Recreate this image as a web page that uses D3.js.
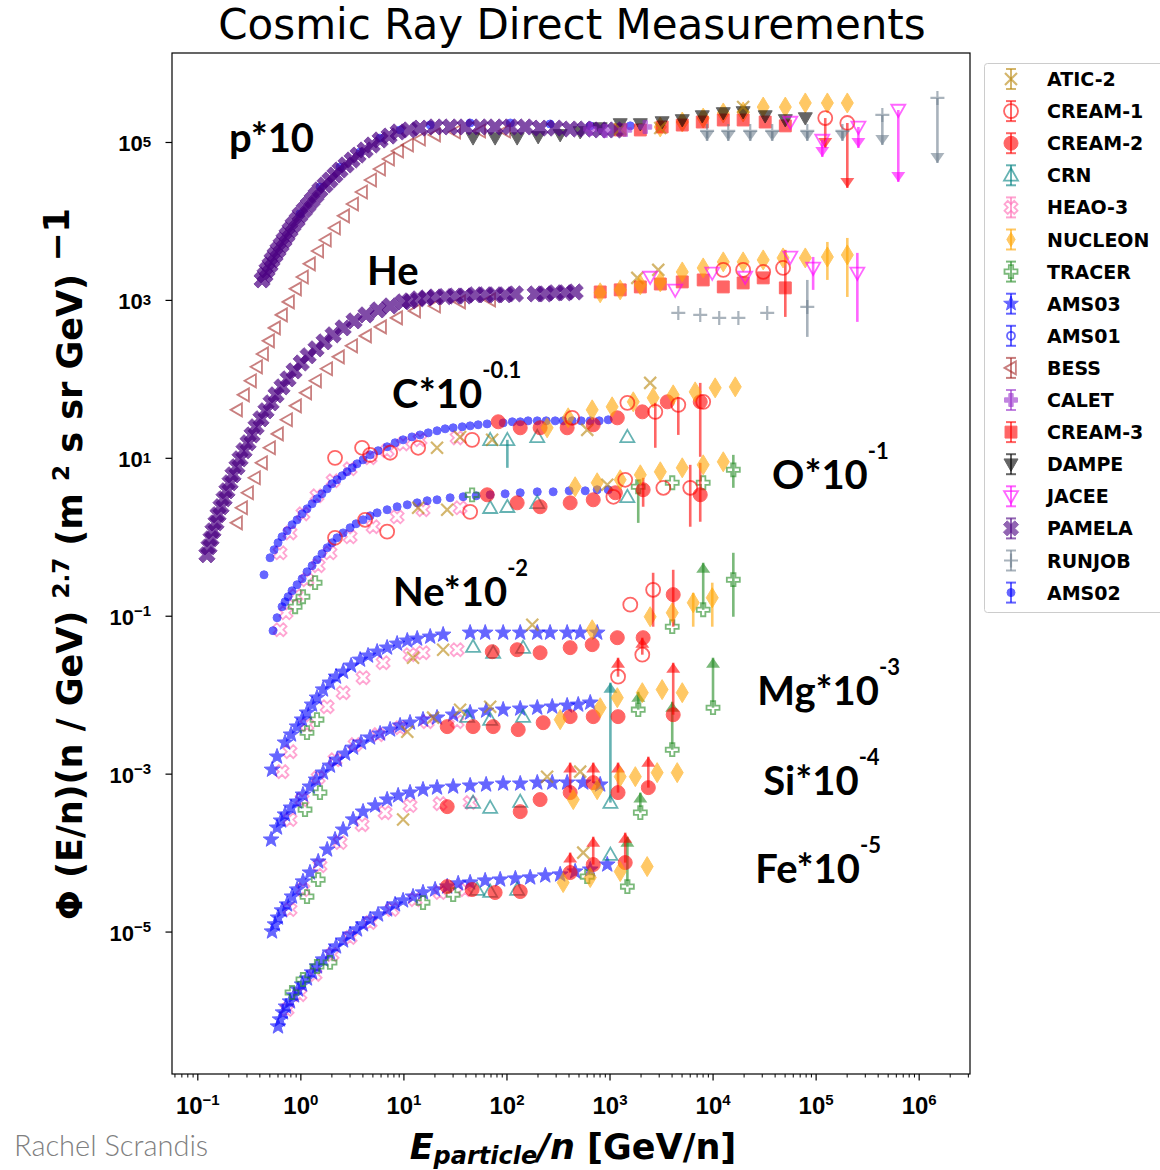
<!DOCTYPE html>
<html>
<head>
<meta charset="utf-8">
<script src="https://cdn.jsdelivr.net/npm/d3@7"></script>
<style>
  body { margin: 0; background: #fff; }
</style>
</head>
<body>
<div id="chart"></div>
<script>
// ---- data (already scaled as plotted: p*10, C*10^-0.1, ...) ----
// point: [E/n, flux]  |  [E/n, flux, barLow, barHigh]  |  [E/n, flux, limitWithArrow]

const experiments = ["ATIC-2", "CREAM-1", "CREAM-2", "CRN", "HEAO-3", "NUCLEON", "TRACER", "AMS03",
  "AMS01", "BESS", "CALET", "CREAM-3", "DAMPE", "JACEE", "PAMELA", "RUNJOB", "AMS02"];

const yTicks = [1e5, 1e3, 1e1, 1e-1, 1e-3, 1e-5];
const xTicks = [1e-1, 1e0, 1e1, 1e2, 1e3, 1e4, 1e5, 1e6];

// protons (*10)
const pPAMELA = [[0.425,1.79e3],[0.454,2.07e3],[0.475,2.40e3],[0.508,2.77e3],[0.531,3.21e3],[0.568,3.71e3],
  [0.607,4.30e3],[0.650,4.97e3],[0.694,5.75e3],[0.743,6.65e3],[0.794,7.69e3],[0.850,8.90e3],[0.929,1.03e4],
  [0.993,1.19e4],[1.09,1.38e4],[1.19,1.59e4],[1.30,1.84e4],[1.42,2.13e4],[1.55,2.47e4],[1.74,2.86e4],
  [1.94,3.30e4],[2.17,3.82e4],[2.43,4.42e4],[2.78,5.12e4],[3.18,5.92e4],[3.63,6.84e4],[4.25,7.92e4],
  [4.97,9.16e4],[5.94,1.06e5],[7.26,1.19e5],[8.89,1.34e5],[11.4,1.42e5],[14.5,1.50e5],[20.3,1.55e5],
  [28.4,1.55e5],[39.7,1.55e5],[55.6,1.55e5],[77.6,1.55e5],[109,1.55e5],[152,1.55e5],[212,1.50e5],
  [297,1.50e5],[415,1.46e5],[581,1.46e5],[812,1.42e5],[1140,1.42e5]];
const pAMS02 = [[0.99,1.23e4],[1.55,2.69e4],[2.43,4.83e4],[3.80,7.47e4],[5.94,1.12e5],[9.29,1.42e5],
  [18.2,1.64e5],[44.4,1.74e5],[109,1.74e5],[265,1.69e5],[650,1.60e5],[1590,1.60e5]];
const pBESS = [[0.243,40.5],[0.284,62.7],[0.332,94.4],[0.380,142],[0.435,207],[0.497,303],[0.568,442],
  [0.664,646],[0.776,944],[0.908,1.38e3],[1.06,1.95e3],[1.24,2.86e3],[1.49,4.17e3],[1.77,5.75e3],
  [2.17,8.15e3],[2.66,1.16e4],[3.25,1.64e4],[3.97,2.33e4],[4.86,3.30e4],[5.94,4.55e4],[7.26,6.09e4],
  [8.89,7.69e4],[11.1,9.16e4],[14.5,1.09e5],[20.3,1.23e5],[31.8,1.34e5],[55.6,1.38e5],[97.1,1.38e5]];
const pDAMPE = [[47.4,1.12e5],[77.6,1.12e5],[127,1.12e5],[203,1.16e5],[332,1.23e5],[519,1.34e5],[812,1.50e5],
  [1270,1.69e5],[1990,1.69e5],[3240,1.79e5],[5080,1.90e5],[7940,2.13e5],[1.27e4,2.33e5],[1.98e4,2.40e5],
  [3.24e4,2.13e5],[5.08e4,1.90e5],[7.94e4,2.01e5]];
const pCREAM3 = [[1270,1.42e5],[1990,1.42e5],[3240,1.55e5],[5080,1.64e5],[7940,1.79e5],[1.27e4,1.90e5],
  [1.98e4,1.90e5],[3.24e4,1.79e5],[5.08e4,1.60e5]];
const pNUCLEON = [[3105,1.55e5],[5080,1.79e5],[8110,2.01e5],[1.27e4,2.33e5],[1.98e4,2.40e5],[3.10e4,2.77e5],
  [5.08e4,2.77e5],[7.94e4,3.12e5],[1.30e5,3.12e5],[2.03e5,3.12e5]];
const pRUNJOB = [[8850,1.38e5,1.03e5],[1.42e4,1.38e5,1.03e5],[2.32e4,1.38e5,1.03e5],[3.79e4,1.38e5,1.03e5],
  [8.30e4,1.38e5,1.03e5],[1.82e5,1.38e5,1.03e5],[4.44e5,2.20e5,9.16e4],[1.52e6,3.61e5,5.42e4]];
const pJACEE = [[5.68e4,1.79e5],[1.16e5,1.06e5,6.46e4],[2.60e5,1.55e5,8.40e4],[6.34e5,2.54e5,3.12e4]];
const pCREAM1 = [[1.24e5,2.01e5,8.40e4],[2.03e5,1.74e5,2.62e4]];
const pATIC2 = [[1270,1.46e5],[3105,1.50e5],[1.98e4,2.77e5]];
const pCALET = [[650,1.46e5],[906,1.38e5],[1420,1.42e5],[2220,1.55e5]];

// helium
const hePAMELA = [[0.124,0.592],[0.130,0.747],[0.136,0.943],[0.142,1.19],[0.152,1.50],[0.159,1.90],
  [0.170,2.40],[0.182,3.03],[0.194,3.82],[0.208,4.83],[0.222,6.09],[0.243,7.69],[0.260,9.71],[0.284,12.3],
  [0.311,15.5],[0.340,19.5],[0.372,24.7],[0.415,31.2],[0.464,39.4],[0.520,49.7],[0.581,62.7],[0.664,79.2],
  [0.760,100],[0.869,126],[1.02,159],[1.19,196],[1.42,240],[1.70,294],[2.08,361],[2.60,442],[3.32,542],
  [4.34,646],[5.68,747],[7.43,839],[9.93,944],[11.6,971],[13.9,1030],[16.6,1060],[20.3,1090],[25.4,1100],
  [31.8,1120],[39.7,1120],[49.7,1160],[62.1,1160],[77.6,1160],[97.1,1160],[122,1190],[190,1190],[238,1190],
  [297,1230],[372,1230],[464,1260]];
const heBESS = [[0.243,1.50],[0.272,2.33],[0.311,3.61],[0.363,5.58],[0.425,8.64],[0.508,13.4],[0.607,20.1],
  [0.743,30.3],[0.908,45.5],[1.14,66.5],[1.42,94.4],[1.82,134],[2.37,190],[3.18,262],[4.34,350],[6.07,455],
  [8.69,592],[13.0,726],[20.3,839],[35.5,944],[69.5,1000]];
const heCREAM3 = [[812,1260],[1270,1340],[1990,1460],[3110,1590],[5080,1690],[8110,1790],[1.27e4,1460],
  [1.98e4,1640],[3.10e4,1900],[5.08e4,1420,609,4300]];
const heNUCLEON = [[812,1230],[1270,1340],[1990,1550],[3110,1690],[5080,2260],[8110,2540],[1.27e4,3030],
  [1.98e4,3030],[3.10e4,3210],[4.83e4,3400],[7.94e4,3400],[1.30e5,3500,1790,5420],[2.03e5,3710,1090,6090]];
const heCREAM1 = [[1.27e4,2400],[1.98e4,2400],[3.10e4,2260],[4.83e4,2540]];
const heJACEE = [[2480,1950],[4340,1340],[9930,2200],[2.07e4,1950],[5.68e4,3500],[9.46e4,2540,1340,3500],
  [2.54e5,2200,527,3940]];
const heRUNJOB = [[4650,684],[7590,646],[1.16e4,592],[1.78e4,592],[3.39e4,684],[8.30e4,815,340,1790]];
const heATIC2 = [[1860,1900],[2970,2400]];

// carbon (*10^-0.1)
const cAMS02 = [[0.444,0.330],[0.508,0.542],[0.556,0.684],[0.607,0.840],[0.664,1.00],[0.743,1.19],[0.830,1.42],
  [0.929,1.64],[1.04,1.95],[1.16,2.26],[1.30,2.62],[1.45,3.03],[1.62,3.50],[1.82,4.05],[2.03,4.69],[2.27,5.27],
  [2.54,5.92],[2.84,6.65],[3.18,7.47],[3.55,8.40],[4.06,9.43],[4.75,10.9],[5.68,12.3],[6.95,13.8],[8.30,15.5],
  [9.93,16.9],[12.1,18.4],[14.5,19.5],[17.4,20.7],[21.2,22.0],[25.4,23.3],[30.4,24.0],[37.2,24.7],[44.4,25.4],
  [53.1,26.2],[64.9,26.9],[92.9,27.7],[114,28.6],[136,28.6],[162,29.4],[199,29.4],[243,29.4],[297,29.4],
  [355,29.4],[434,29.4],[531,29.4],[650,29.4],[794,29.4],[971,30.3]];
const cHEAO3 = [[0.635,0.627],[0.794,1.12],[1.06,1.95],[1.45,3.30],[2.08,5.11],[3.04,7.26],[4.75,10.0],
  [6.95,12.3],[9.93,15.0],[14.5,16.9],[33.2,17.9]];
const cCREAM1 = [[2.17,10.0],[3.97,13.4],[4.75,10.9],[7.43,11.6],[13.9,13.4],[46.4,16.9],[434,32.1],
  [1490,49.7],[2780,38.2,13.4,49.7],[4650,46.9,19.5,59.2],[8110,51.2]];
const cATIC2 = [[21.2,13.4],[35.5,18.4],[72.6,16.9],[608,22.6],[2480,88.9]];
const cCRN = [[69.5,16.9],[102,16.9,7.47,16.9],[199,18.4],[1490,18.4]];
const cCREAM2 = [[83.2,28.6],[136,24.0],[212,24.0],[388,24.0],[695,26.2],[1190,32.1],[2080,38.2],[3640,51.2],
  [7590,51.2,10.3,88.9]];
const cNUCLEON = [[248,24.0],[397,32.1],[679,40.5],[1060,44.2],[1700,51.2],[2650,57.5],[4150,62.7],[6780,68.4],
  [1.06e4,76.9],[1.66e4,79.2]];

// oxygen (*10^-1)
const oAMS02 = [[0.543,0.0646],[0.594,0.0944],[0.664,0.130],[0.710,0.150],[0.760,0.174],[0.830,0.207],
  [0.929,0.247],[1.04,0.294],[1.16,0.360],[1.30,0.430],[1.45,0.512],[1.62,0.609],[1.82,0.726],[2.03,0.840],
  [2.27,0.971],[2.60,1.12],[3.04,1.30],[3.47,1.46],[4.06,1.64],[4.75,1.84],[5.56,2.01],[6.95,2.20],[8.69,2.40],
  [10.9,2.54],[13.6,2.69],[17.0,2.86],[21.2,2.94],[28.4,3.12],[38.0,3.21],[50.8,3.30],[69.5,3.40],[97.1,3.50],
  [136,3.61],[199,3.71],[284,3.71],[406,3.82],[581,3.82],[759,3.94],[971,3.94]];
const oHEAO3 = [[0.635,0.0665],[0.726,0.109],[0.908,0.179],[1.16,0.286],[1.49,0.430],[1.94,0.627],[3.04,1.00],
  [5.08,1.34],[8.69,1.79],[15.5,2.20],[35.5,2.33]];
const oTRACER = [[0.889,0.130],[1.06,0.174],[1.39,0.262],[46.4,3.40],[1900,4.30,1.50,5.27],[4060,4.83],
  [8110,4.83],[1.59e4,7.05,4.17,10.9]];
const oCREAM1 = [[2.17,0.971],[4.25,1.64],[6.95,1.16],[44.4,2.07],[1090,3.21],[1420,5.27],[3330,4.17],
  [6070,4.17,1.34,8.15]];
const oCREAM2 = [[65.0,3.40],[127,2.69],[212,2.40],[415,2.69],[695,2.94],[1140,3.61],[2120,3.94,2.40,5.58],
  [7590,3.40,1.55,8.64]];
const oCRN = [[69.5,2.33],[102,2.40],[199,2.69],[1490,3.21]];
const oATIC2 = [[13.9,2.33],[26.6,2.20],[951,4.55]];
const oNUCLEON = [[464,4.30],[759,4.83],[1270,5.27],[1990,6.09],[3110,6.65],[5080,7.47],[8110,8.15],[1.27e4,8.90]];

// neon (*10^-2)
const neAMS03 = [[0.531,1.12e-3],[0.594,1.64e-3],[0.710,2.47e-3],[0.812,3.12e-3],[0.929,3.94e-3],[1.04,4.83e-3],
  [1.16,5.92e-3],[1.30,7.47e-3],[1.45,9.16e-3],[1.66,0.0116],[1.94,0.0142],[2.22,0.0169],[2.60,0.0195],
  [3.11,0.0233],[3.80,0.0277],[4.54,0.0312],[5.56,0.0350],[6.95,0.0394],[8.69,0.0442],[10.9,0.0483],
  [13.6,0.0512],[18.2,0.0542],[24.3,0.0575],[44.4,0.0609],[62.2,0.0609],[92.9,0.0609],[136,0.0609],
  [199,0.0609],[265,0.0609],[388,0.0609],[519,0.0609],[760,0.0609]];
const neHEAO3 = [[0.664,1.06e-3],[0.794,1.90e-3],[1.16,4.17e-3],[1.82,7.05e-3],[2.60,0.0106],[4.06,0.0164],
  [6.35,0.0254],[11.6,0.0321],[15.5,0.0340],[33.2,0.0371]];
const neTRACER = [[1.16,3.30e-3],[1.45,4.83e-3],[4060,0.0726],[8110,0.119,0.469],[1.59e4,0.286,0.0971,0.627]];
const neATIC2 = [[12.4,0.0294],[24.3,0.0371],[178,0.0769]];
const neCRN = [[47.4,0.0405],[74.3,0.0340],[145,0.0394]];
const neCREAM2 = [[72.8,0.0350],[127,0.0371],[212,0.0340],[415,0.0394],[679,0.0430],[1190,0.0527],[2120,0.0527],
  [4150,0.185,0.0726,0.382]];
const neCREAM1 = [[1590,0.138],[2650,0.213,0.0726,0.350],[1210,0.0169,0.0294],[2080,0.0321,0.0527]];
const neNUCLEON = [[679,0.0665],[2480,0.0971],[4060,0.109],[6490,0.146,0.0726,0.195],[9930,0.169,0.0726,0.262]];

// magnesium (*10^-3)
const mgAMS03 = [[0.520,1.46e-4],[0.594,2.07e-4],[0.650,2.54e-4],[0.710,3.03e-4],[0.812,3.71e-4],[0.929,4.42e-4],
  [1.06,5.42e-4],[1.24,6.84e-4],[1.42,8.39e-4],[1.66,1.03e-3],[1.94,1.26e-3],[2.27,1.50e-3],[2.72,1.79e-3],
  [3.25,2.13e-3],[3.88,2.47e-3],[4.75,2.86e-3],[5.94,3.21e-3],[7.43,3.61e-3],[9.29,4.06e-3],[11.6,4.42e-3],
  [15.5,4.83e-3],[21.2,5.12e-3],[30.4,5.58e-3],[44.4,5.92e-3],[63.5,6.27e-3],[92.9,6.46e-3],[136,6.65e-3],
  [199,6.84e-3],[278,7.05e-3],[388,7.26e-3],[497,7.47e-3],[650,7.92e-3]];
const mgHEAO3 = [[0.794,2.62e-4],[1.04,4.69e-4],[1.49,8.89e-4],[2.17,1.50e-3],[3.40,2.33e-3],[5.68,3.12e-3],
  [9.29,3.82e-3],[17.0,4.55e-3],[33.2,4.55e-3]];
const mgTRACER = [[1.11,3.50e-4],[1.55,5.75e-4],[1900,6.46e-3,0.0109],[4060,2.01e-3,8.15e-3],[1.01e4,6.84e-3,0.0294]];
const mgATIC2 = [[10.9,3.40e-3],[19.4,5.12e-3],[35.5,6.46e-3],[69.5,7.05e-3]];
const mgCREAM2 = [[26.6,3.94e-3],[47.4,3.94e-3],[74.3,3.94e-3],[130,3.61e-3],[227,4.42e-3],[415,5.27e-3],
  [695,5.27e-3],[1210,5.27e-3],[4150,5.58e-3,0.0254]];
const mgCRN = [[41.5,5.27e-3],[69.5,4.83e-3],[145,5.27e-3]];
const mgNUCLEON = [[332,4.83e-3],[812,6.84e-3],[1190,9.16e-3],[2080,0.0106],[3240,0.0116],[5080,0.0106]];

// silicon (*10^-4)
const siAMS03 = [[0.531,1.00e-5],[0.568,1.23e-5],[0.607,1.50e-5],[0.664,1.85e-5],[0.743,2.20e-5],[0.830,2.77e-5],
  [0.929,3.40e-5],[1.06,4.30e-5],[1.24,5.58e-5],[1.49,7.69e-5],[1.82,1.09e-4],[2.17,1.46e-4],[2.60,1.95e-4],
  [3.25,2.62e-4],[4.06,3.30e-4],[5.31,3.94e-4],[6.95,4.69e-4],[8.89,5.27e-4],[11.6,5.75e-4],[15.5,6.27e-4],
  [21.2,6.65e-4],[30.4,6.84e-4],[44.4,7.05e-4],[63.5,7.26e-4],[92.9,7.47e-4],[136,7.47e-4],[199,7.69e-4],
  [278,7.69e-4],[388,7.69e-4],[556,7.69e-4],[812,7.26e-4]];
const siHEAO3 = [[0.794,1.90e-5],[1.06,3.40e-5],[1.55,6.84e-5],[2.43,1.34e-4],[3.97,2.26e-4],[6.64,3.21e-4],
  [11.6,3.94e-4],[22.7,4.17e-4],[44.4,4.30e-4]];
const siTRACER = [[1.16,2.77e-5],[1.49,4.55e-5],[1990,3.21e-4,5.75e-4]];
const siATIC2 = [[9.93,2.62e-4],[248,9.16e-4],[519,1.06e-3]];
const siCREAM2 = [[26.6,3.82e-4],[136,3.30e-4],[212,4.69e-4],[415,5.75e-4,1.38e-3],[695,7.69e-4,1.38e-3],
  [1210,5.75e-4,1.38e-3],[2380,6.65e-4,1.64e-3]];
const siCRN = [[47.4,4.30e-4],[69.5,3.71e-4],[136,4.42e-4],[1020,4.30e-4,0.0142]];
const siNUCLEON = [[445,4.69e-4],[759,6.27e-4],[1270,9.16e-4],[1780,9.16e-4],[2900,1.03e-3],[4540,1.03e-3]];

// iron (*10^-5)
const feAMS03 = [[0.607,6.27e-7],[0.635,7.69e-7],[0.679,9.44e-7],[0.726,1.12e-6],[0.794,1.30e-6],[0.869,1.55e-6],
  [0.950,1.84e-6],[1.04,2.13e-6],[1.16,2.54e-6],[1.30,3.03e-6],[1.45,3.61e-6],[1.66,4.42e-6],[1.94,5.42e-6],
  [2.22,6.46e-6],[2.60,7.69e-6],[3.04,9.16e-6],[3.55,1.06e-5],[4.06,1.23e-5],[4.75,1.42e-5],[5.68,1.64e-5],
  [6.95,1.90e-5],[8.30,2.20e-5],[9.93,2.47e-5],[12.4,2.77e-5],[15.5,3.12e-5],[20.3,3.40e-5],[26.6,3.71e-5],
  [34.0,4.06e-5],[44.4,4.17e-5],[62.1,4.42e-5],[86.9,4.55e-5],[122,4.69e-5],[170,4.83e-5],[238,5.12e-5],
  [332,5.27e-5],[464,5.75e-5],[650,6.09e-5],[951,7.05e-5]];
const feHEAO3 = [[0.743,1.03e-6],[0.99,1.59e-6],[1.39,2.86e-6],[2.03,5.12e-6],[3.04,8.39e-6],[4.75,1.30e-5],
  [7.77,1.90e-5],[13.0,2.54e-5],[22.7,3.12e-5],[39.7,3.40e-5]];
const feTRACER = [[0.830,1.69e-6],[1.06,2.47e-6],[1.45,3.61e-6],[1.94,4.06e-6],[15.5,2.33e-5],[30.4,2.94e-5],
  [608,4.97e-5],[1490,3.71e-5,1.59e-4]];
const feCRN = [[51.9,3.40e-5],[69.5,3.21e-5],[127,3.40e-5],[1020,9.44e-5]];
const feCREAM2 = [[26.6,3.71e-5],[46.4,3.40e-5],[77.6,3.12e-5],[136,3.21e-5],[415,5.58e-5,1.0e-4],
  [695,7.05e-5,1.59e-4],[1420,7.47e-5,1.79e-4]];
const feNUCLEON = [[355,4.17e-5],[650,4.83e-5],[1270,5.75e-5],[2320,6.65e-5]];
const feATIC2 = [[556,1.0e-4]];

// species labels: [text, exponent, E/n at left edge, flux at baseline]
const speciesLabels = [["p*10", "", 0.203, 7.5e4], ["He", "", 4.43, 1.55e3], ["C*10", "-0.1", 7.77, 42.9],
  ["O*10", "-1", 3.78e4, 4.05], ["Ne*10", "-2", 7.94, 0.134], ["Mg*10", "-3", 2.72e4, 7.47e-3],
  ["Si*10", "-4", 3.10e4, 5.42e-4], ["Fe*10", "-5", 2.60e4, 4.17e-5]];

// ---- drawing order ----
const series = [
  ["HEAO-3", cHEAO3], ["HEAO-3", oHEAO3], ["HEAO-3", neHEAO3], ["HEAO-3", mgHEAO3], ["HEAO-3", siHEAO3], ["HEAO-3", feHEAO3],
  ["AMS02", pAMS02], ["AMS02", cAMS02], ["AMS02", oAMS02],
  ["AMS03", neAMS03], ["AMS03", mgAMS03], ["AMS03", siAMS03], ["AMS03", feAMS03],
  ["BESS", pBESS], ["BESS", heBESS],
  ["NUCLEON", pNUCLEON], ["CREAM-3", pCREAM3], ["DAMPE", pDAMPE],
  ["PAMELA", pPAMELA], ["PAMELA", hePAMELA],
  ["TRACER", oTRACER], ["TRACER", neTRACER], ["TRACER", mgTRACER], ["TRACER", siTRACER], ["TRACER", feTRACER],
  ["CRN", cCRN], ["CRN", oCRN], ["CRN", neCRN], ["CRN", mgCRN], ["CRN", siCRN], ["CRN", feCRN],
  ["ATIC-2", pATIC2], ["ATIC-2", heATIC2], ["ATIC-2", cATIC2], ["ATIC-2", oATIC2], ["ATIC-2", neATIC2],
  ["ATIC-2", mgATIC2], ["ATIC-2", siATIC2], ["ATIC-2", feATIC2],
  ["CALET", pCALET],
  ["CREAM-3", heCREAM3],
  ["CREAM-2", cCREAM2], ["CREAM-2", oCREAM2], ["CREAM-2", neCREAM2], ["CREAM-2", mgCREAM2], ["CREAM-2", siCREAM2], ["CREAM-2", feCREAM2],
  ["NUCLEON", heNUCLEON], ["NUCLEON", cNUCLEON], ["NUCLEON", oNUCLEON], ["NUCLEON", neNUCLEON],
  ["NUCLEON", mgNUCLEON], ["NUCLEON", siNUCLEON], ["NUCLEON", feNUCLEON],
  ["CREAM-1", pCREAM1], ["CREAM-1", heCREAM1], ["CREAM-1", cCREAM1], ["CREAM-1", oCREAM1], ["CREAM-1", neCREAM1],
  ["JACEE", pJACEE], ["JACEE", heJACEE],
  ["RUNJOB", pRUNJOB], ["RUNJOB", heRUNJOB]
];

// marker look for each experiment
const styles = {
  "ATIC-2":  { color: "#b8860b", shape: "x", fill: false, size: 12 },
  "CREAM-1": { color: "red", shape: "circle", fill: false, size: 14 },
  "CREAM-2": { color: "red", shape: "circle", fill: true, size: 14 },
  "CRN":     { color: "teal", shape: "triUp", fill: false, size: 14 },
  "HEAO-3":  { color: "hotpink", shape: "xfat", fill: false, size: 12 },
  "NUCLEON": { color: "orange", shape: "thinDiamond", fill: true, size: 20 },
  "TRACER":  { color: "#228b22", shape: "plusFat", fill: false, size: 13 },
  "AMS03":   { color: "blue", shape: "star", fill: true, size: 15 },
  "AMS01":   { color: "blue", shape: "circle", fill: false, size: 8 },
  "BESS":    { color: "brown", shape: "triLeft", fill: false, size: 13 },
  "CALET":   { color: "darkorchid", shape: "plusFat", fill: true, size: 13 },
  "CREAM-3": { color: "red", shape: "square", fill: true, size: 14 },
  "DAMPE":   { color: "black", shape: "triDown", fill: true, size: 14 },
  "JACEE":   { color: "magenta", shape: "triDown", fill: false, size: 14 },
  "PAMELA":  { color: "indigo", shape: "xfat", fill: true, size: 15, alpha: 0.7 },
  "RUNJOB":  { color: "slategray", shape: "plus", fill: false, size: 14 },
  "AMS02":   { color: "blue", shape: "circle", fill: true, size: 8 }
};

const W = 1160, H = 1170;
const plotL = 172, plotR = 970, plotT = 53, plotB = 1074;

const svg = d3.select("#chart").append("svg")
  .attr("width", W).attr("height", H)
  .style("font-family", "DejaVu Sans, sans-serif");

const x = d3.scaleLog().domain([Math.pow(10, -1.2456), Math.pow(10, 6.498)]).range([plotL, plotR]);
const y = d3.scaleLog().domain([Math.pow(10, -6.804), Math.pow(10, 6.127)]).range([plotB, plotT]);

function rotatePts(pts, deg) {
  const a = deg * Math.PI / 180, c = Math.cos(a), s = Math.sin(a);
  return pts.map(p => [p[0] * c - p[1] * s, p[0] * s + p[1] * c]);
}
function poly(pts) { return "M" + pts.map(p => p[0].toFixed(2) + "," + p[1].toFixed(2)).join("L") + "Z"; }

function shapePath(shape, s) {
  const r = s / 2;
  const t = r / 3;
  const plusPts = [[-t,-r],[t,-r],[t,-t],[r,-t],[r,t],[t,t],[t,r],[-t,r],[-t,t],[-r,t],[-r,-t],[-t,-t]];
  switch (shape) {
    case "circle": return `M${r},0A${r},${r} 0 1,1 ${-r},0A${r},${r} 0 1,1 ${r},0Z`;
    case "square": return poly([[-r*0.85,-r*0.85],[r*0.85,-r*0.85],[r*0.85,r*0.85],[-r*0.85,r*0.85]]);
    case "triUp": return poly([[0,-r],[r,r*0.75],[-r,r*0.75]]);
    case "triDown": return poly([[0,r],[r,-r*0.75],[-r,-r*0.75]]);
    case "triLeft": return poly([[-r,0],[r*0.75,-r],[r*0.75,r]]);
    case "thinDiamond": return poly([[0,-r],[r*0.6,0],[0,r],[-r*0.6,0]]);
    case "x": return `M${-r},${-r}L${r},${r}M${-r},${r}L${r},${-r}`;
    case "plus": return `M${-r},0L${r},0M0,${-r}L0,${r}`;
    case "plusFat": return poly(plusPts);
    case "xfat": return poly(rotatePts(plusPts.map(p => [p[0]*1.15, p[1]*1.15]), 45));
    case "star": {
      const pts = [];
      for (let i = 0; i < 10; i++) {
        const rr = i % 2 === 0 ? r * 1.1 : r * 0.45;
        const a = -Math.PI / 2 + i * Math.PI / 5;
        pts.push([rr * Math.cos(a), rr * Math.sin(a)]);
      }
      return poly(pts);
    }
  }
}

function drawMarker(g, st, cx, cy, alpha) {
  const lineOnly = st.shape === "x" || st.shape === "plus";
  g.append("path")
    .attr("d", shapePath(st.shape, st.size))
    .attr("transform", `translate(${cx},${cy})`)
    .attr("fill", st.fill ? st.color : "none")
    .attr("stroke", st.color)
    .attr("stroke-width", lineOnly ? 2.2 : (st.fill ? 1 : 1.8))
    .attr("opacity", alpha);
}

function arrowHead(g, color, cx, cy, down, alpha) {
  const w = 7, h = 10;
  const pts = down ? [[cx - w, cy - h], [cx + w, cy - h], [cx, cy]] : [[cx - w, cy + h], [cx + w, cy + h], [cx, cy]];
  g.append("path").attr("d", poly(pts)).attr("fill", color).attr("opacity", alpha);
}

// frame
svg.append("rect").attr("x", plotL).attr("y", plotT)
  .attr("width", plotR - plotL).attr("height", plotB - plotT)
  .attr("fill", "none").attr("stroke", "#000").attr("stroke-width", 1.2);

svg.append("clipPath").attr("id", "clip").append("rect")
  .attr("x", plotL).attr("y", plotT).attr("width", plotR - plotL).attr("height", plotB - plotT);

const plot = svg.append("g").attr("clip-path", "url(#clip)");
const alpha = 0.6;

series.forEach(([exp, data]) => {
  const st = styles[exp];
  const a = st.alpha || alpha;
  const g = plot.append("g").attr("class", "series");
  data.forEach(d => {
    const cx = x(d[0]), cy = y(d[1]);
    if (d.length === 4) {
      g.append("line").attr("x1", cx).attr("x2", cx).attr("y1", y(d[2])).attr("y2", y(d[3]))
        .attr("stroke", st.color).attr("stroke-width", 2.6).attr("opacity", a);
    } else if (d.length === 3) {
      const ly = y(d[2]);
      g.append("line").attr("x1", cx).attr("x2", cx).attr("y1", cy).attr("y2", ly)
        .attr("stroke", st.color).attr("stroke-width", 2.6).attr("opacity", a);
      arrowHead(g, st.color, cx, ly, ly > cy, a);
    }
    drawMarker(g, st, cx, cy, a);
  });
});

// axes
const minorX = [];
for (let e = -2; e <= 6; e++) for (let m = 2; m <= 9; m++) {
  const v = m * Math.pow(10, e);
  if (v > x.domain()[0] && v < x.domain()[1]) minorX.push(v);
}
svg.append("g").attr("transform", `translate(0,${plotB})`)
  .call(d3.axisBottom(x).tickValues(minorX).tickSize(3.5).tickFormat(""))
  .call(g => g.select(".domain").remove())
  .selectAll("line").attr("stroke-width", 1);

const xAxisG = svg.append("g").attr("transform", `translate(0,${plotB})`)
  .call(d3.axisBottom(x).tickValues(xTicks).tickSize(6.5).tickFormat(""));
xAxisG.select(".domain").remove();
xAxisG.selectAll("line").attr("stroke-width", 1.2);

xAxisG.selectAll(".tick").each(function (v) {
  const ex = Math.round(Math.log10(v));
  const t = d3.select(this).append("text")
    .attr("y", 40).attr("fill", "#000").attr("text-anchor", "middle")
    .style("font-family", "Liberation Sans Narrow, Liberation Sans, sans-serif")
    .style("font-weight", "bold").style("font-size", "24px");
  t.append("tspan").text("10");
  t.append("tspan").attr("dy", -9).style("font-size", "15px").text(String(ex).replace("-", "\u2212"));
});

const yAxisG = svg.append("g").attr("transform", `translate(${plotL},0)`)
  .call(d3.axisLeft(y).tickValues(yTicks).tickSize(6.5).tickFormat(""));
yAxisG.select(".domain").remove();
yAxisG.selectAll("line").attr("stroke-width", 1.2);
yAxisG.selectAll(".tick").each(function (v) {
  const ex = Math.round(Math.log10(v));
  const t = d3.select(this).append("text")
    .attr("x", -21).attr("y", 9).attr("fill", "#000").attr("text-anchor", "end")
    .style("font-weight", "bold").style("font-size", "22px");
  t.append("tspan").text("10");
  t.append("tspan").attr("dy", ex < 0 ? -9 : -4).style("font-size", "15px").text(String(ex).replace("-", "\u2212"));
});

// title
svg.append("text").attr("x", 572).attr("y", 39).attr("text-anchor", "middle")
  .style("font-size", "42px").text("Cosmic Ray Direct Measurements");

// y label
const yl = svg.append("text").attr("transform", "translate(82,564) rotate(-90)")
  .attr("text-anchor", "middle")
  .style("font-weight", "bold").style("font-size", "35px");
yl.append("tspan").text("\u03a6 (E/n)(n / GeV) ");
yl.append("tspan").attr("dy", -13).style("font-size", "23px").text("2.7");
yl.append("tspan").attr("dy", 13).text(" (m ");
yl.append("tspan").attr("dy", -13).style("font-size", "23px").text("2");
yl.append("tspan").attr("dy", 13).text(" s sr GeV) ");
yl.append("tspan").attr("dy", -13).text("\u22121");

// x label
const xl = svg.append("text").attr("x", 573).attr("y", 1159).attr("text-anchor", "middle")
  .style("font-weight", "bold").style("font-size", "35px");
xl.append("tspan").style("font-style", "italic").text("E");
xl.append("tspan").style("font-style", "italic").style("font-size", "24px").attr("dy", 5).text("particle");
xl.append("tspan").style("font-style", "italic").attr("dy", -5).text("/n");
xl.append("tspan").text(" [GeV/n]");

// credit
svg.append("text").attr("x", 14).attr("y", 1156)
  .style("font-family", "Lato, Open Sans, sans-serif").style("font-weight", 300)
  .style("font-size", "29px").attr("fill", "#7f7f7f").text("Rachel Scrandis");

// species annotations
speciesLabels.forEach(([txt, sup, ev, fv]) => {
  const t = svg.append("text").attr("x", x(ev)).attr("y", y(fv))
    .style("font-family", "Lato, Open Sans, sans-serif").style("font-weight", "bold")
    .style("font-size", "40px").attr("fill", "#000");
  t.append("tspan").text(txt);
  if (sup) t.append("tspan").attr("dy", -30).style("font-size", "22px").text(sup);
});

// legend
const lg = svg.append("g");
lg.append("rect").attr("x", 984.5).attr("y", 63.5).attr("width", 190).attr("height", 549)
  .attr("rx", 3).attr("fill", "#fff").attr("stroke", "#cccccc");
experiments.forEach((exp, i) => {
  const st = styles[exp];
  const cy = 79 + i * 32.1, cx = 1011;
  const g = lg.append("g");
  g.append("line").attr("x1", cx).attr("x2", cx).attr("y1", cy - 10).attr("y2", cy + 10)
    .attr("stroke", st.color).attr("stroke-width", 2).attr("opacity", alpha);
  [cy - 10, cy + 10].forEach(cyy => g.append("line").attr("x1", cx - 5).attr("x2", cx + 5)
    .attr("y1", cyy).attr("y2", cyy).attr("stroke", st.color).attr("stroke-width", 2).attr("opacity", alpha));
  drawMarker(g, Object.assign({}, st, { size: Math.min(st.size, 14) }), cx, cy, alpha);
  g.append("text").attr("x", 1047).attr("y", cy + 7)
    .style("font-weight", "bold").style("font-size", "19px").text(exp);
});
</script>
</body>
</html>
